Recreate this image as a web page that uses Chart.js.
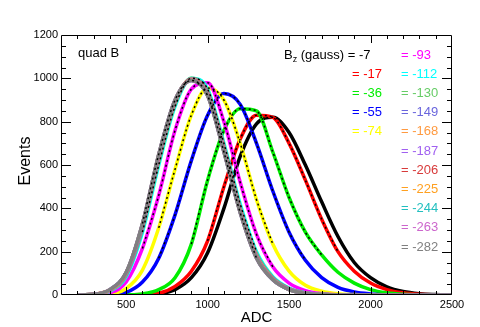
<!DOCTYPE html>
<html>
<head>
<meta charset="utf-8">
<script src="https://cdn.jsdelivr.net/npm/chart.js@4/dist/chart.umd.min.js"></script>
<style>
  body { margin: 0; background: #fff; }
  #wrap { width: 480px; height: 327px; }
</style>
</head>
<body>
<div id="wrap"><canvas id="adcChart" width="480" height="327"></canvas></div>
<script>
// ADC bin centres (x) shared by every histogram
const adc = [200, 300, 400, 500, 600, 700, 800, 900, 1000, 1100, 1200, 1300,
             1400, 1500, 1600, 1700, 1800, 1900, 2000, 2100, 2200, 2300, 2400, 2500];

const bzValues = ['-7', '-17', '-36', '-55', '-74', '-93', '-112', '-130',
                  '-149', '-168', '-187', '-206', '-225', '-244', '-263', '-282'];
const bzColors = ['#000000', '#ff0000', '#00ee00', '#0000ff', '#ffff00', '#ff00ff', '#00ffff', '#66cc66',
                  '#6a66dd', '#ff9a40', '#a060f0', '#d83a3a', '#ffa020', '#22bfbf', '#cc66cc', '#808080'];

// events, one array per Bz setting
const evM7   = [0, 0, 0, 0, 1, 5, 25, 80, 195, 400, 640, 790, 820, 750, 600, 430, 270, 150, 80, 38, 16, 6, 2, 0];
const evM17  = [0, 0, 0, 0, 2, 8, 40, 110, 250, 500, 720, 830, 820, 700, 530, 350, 200, 110, 55, 25, 10, 3, 1, 0];
const evM36  = [0, 0, 0, 1, 5, 25, 80, 235, 530, 760, 860, 850, 660, 450, 290, 185, 105, 55, 25, 10, 3, 1, 0, 0];
const evM55  = [0, 0, 2, 12, 60, 170, 370, 620, 830, 930, 880, 700, 480, 290, 160, 80, 35, 14, 5, 1, 0, 0, 0, 0];
const evM74  = [0, 0, 4, 30, 115, 310, 580, 830, 955, 900, 700, 440, 235, 110, 45, 18, 6, 2, 0, 0, 0, 0, 0, 0];
const evM93  = [0, 1, 10, 60, 215, 460, 760, 950, 980, 800, 520, 280, 130, 55, 20, 6, 1, 0, 0, 0, 0, 0, 0, 0];
const evM112 = [0, 2, 18, 85, 290, 600, 870, 1000, 950, 700, 420, 200, 85, 32, 10, 3, 0, 0, 0, 0, 0, 0, 0, 0];
const evM130 = [0, 3, 20, 92, 305, 615, 880, 1000, 940, 690, 405, 190, 80, 30, 9, 2, 0, 0, 0, 0, 0, 0, 0, 0];
const evM149 = [0, 3, 22, 96, 312, 628, 888, 998, 935, 682, 398, 184, 77, 28, 9, 2, 0, 0, 0, 0, 0, 0, 0, 0];
const evM168 = [0, 3, 22, 98, 318, 635, 892, 996, 930, 676, 392, 180, 75, 27, 8, 2, 0, 0, 0, 0, 0, 0, 0, 0];
const evM187 = [0, 3, 23, 100, 322, 640, 895, 994, 927, 670, 388, 177, 73, 26, 8, 2, 0, 0, 0, 0, 0, 0, 0, 0];
const evM206 = [0, 3, 24, 102, 325, 644, 897, 992, 924, 666, 385, 174, 72, 26, 8, 2, 0, 0, 0, 0, 0, 0, 0, 0];
const evM225 = [0, 3, 24, 103, 327, 647, 898, 991, 922, 663, 383, 172, 71, 25, 8, 2, 0, 0, 0, 0, 0, 0, 0, 0];
const evM244 = [0, 3, 25, 104, 328, 648, 899, 990, 921, 661, 381, 171, 70, 25, 8, 2, 0, 0, 0, 0, 0, 0, 0, 0];
const evM263 = [0, 3, 25, 104, 329, 649, 900, 990, 920, 660, 380, 170, 70, 25, 8, 2, 0, 0, 0, 0, 0, 0, 0, 0];
const evM282 = [0, 3, 25, 105, 330, 650, 900, 990, 920, 660, 380, 170, 70, 25, 8, 2, 0, 0, 0, 0, 0, 0, 0, 0];

const allEvents = [evM7, evM17, evM36, evM55, evM74, evM93, evM112, evM130,
                   evM149, evM168, evM187, evM206, evM225, evM244, evM263, evM282];
// which histograms carry a dotted fit curve
const fitted = [0, 1, 2, 3, 4, 5, 6, 15];

const xTicks = [500, 1000, 1500, 2000, 2500];
const yTicks = [0, 200, 400, 600, 800, 1000, 1200];

const FONT = '"Liberation Sans", Arial, Helvetica, sans-serif';

function toPoints(values) {
    return values.map((v, i) => ({ x: adc[i], y: v }));
}

function buildDatasets() {
    const sets = allEvents.map((values, i) => ({
        label: 'Bz = ' + bzValues[i],
        data: toPoints(values),
        borderColor: bzColors[i],
        borderWidth: 3.5,
        pointRadius: 0,
        cubicInterpolationMode: 'monotone',
        order: allEvents.length - i   // last one (-282) ends up on top
    }));
    fitted.forEach(i => {
        sets.push({
            label: 'fit ' + bzValues[i],
            data: allEvents[i].map((v, k) => ({ x: adc[k], y: v >= 120 ? v : null })),
            borderColor: '#000',
            borderWidth: 1.5,
            borderDash: [2, 3],
            pointRadius: 0,
            cubicInterpolationMode: 'monotone',
            spanGaps: false,
            order: -1
        });
    });
    return sets;
}

// ROOT-like frame: inward ticks on all four sides, plus the text
const rootFrame = {
    id: 'rootFrame',
    afterDatasetsDraw(chart) {
        const { ctx, chartArea: a, scales: { x, y } } = chart;
        ctx.save();
        ctx.strokeStyle = '#000';
        ctx.lineWidth = 1;
        ctx.beginPath();
        ctx.rect(a.left + 0.5, a.top + 0.5, a.right - a.left - 1, a.bottom - a.top - 1);
        for (let v = 200; v < 2500; v += 100) {
            const px = Math.round(x.getPixelForValue(v)) + 0.5;
            const len = v % 500 === 0 ? 8 : 4;
            ctx.moveTo(px, a.bottom); ctx.lineTo(px, a.bottom - len);
            ctx.moveTo(px, a.top); ctx.lineTo(px, a.top + len);
        }
        for (let v = 50; v < 1200; v += 50) {
            const py = Math.round(y.getPixelForValue(v)) + 0.5;
            const len = v % 200 === 0 ? 10 : 5;
            ctx.moveTo(a.left, py); ctx.lineTo(a.left + len, py);
            ctx.moveTo(a.right, py); ctx.lineTo(a.right - len, py);
        }
        ctx.stroke();
        ctx.restore();
    },
    afterDraw(chart) {
        const { ctx, chartArea: a } = chart;
        ctx.save();
        ctx.fillStyle = '#000';
        ctx.textBaseline = 'alphabetic';

        ctx.font = '13px ' + FONT;
        ctx.textAlign = 'left';
        ctx.fillText('quad B', 78, 57);

        // axis titles
        ctx.font = '15px ' + FONT;
        ctx.textAlign = 'center';
        ctx.fillText('ADC', (a.left + a.right) / 2, 322);
        ctx.save();
        ctx.translate(30, 161);
        ctx.rotate(-Math.PI / 2);
        ctx.font = '16px ' + FONT;
        ctx.fillText('Events', 0, 0);
        ctx.restore();

        // legend: B_z (gauss) = ...
        const rowH = 19.2;
        const top = 58.5;
        ctx.textAlign = 'left';
        ctx.font = '13px ' + FONT;
        ctx.fillText('B', 284, top);
        let bx = 284 + ctx.measureText('B').width;
        ctx.font = '9px ' + FONT;
        ctx.fillText('z', bx, top + 3);
        bx += ctx.measureText('z').width;
        ctx.font = '13px ' + FONT;
        ctx.fillText(' (gauss) = ' + bzValues[0], bx, top);

        for (let i = 1; i <= 4; i++) {
            ctx.fillStyle = bzColors[i];
            ctx.textAlign = 'right';
            ctx.fillText('= ' + bzValues[i], 382, top + rowH * i);
        }
        for (let i = 5; i < bzValues.length; i++) {
            ctx.fillStyle = bzColors[i];
            ctx.textAlign = 'left';
            ctx.fillText('= ' + bzValues[i], 401, top + rowH * (i - 5));
        }
        ctx.restore();
    }
};

new Chart(document.getElementById('adcChart'), {
    type: 'line',
    data: { datasets: buildDatasets() },
    options: {
        responsive: false,
        animation: false,
        events: [],
        layout: { padding: { top: 35, right: 28, left: 0, bottom: 0 } },
        plugins: {
            legend: { display: false },
            tooltip: { enabled: false }
        },
        scales: {
            x: {
                type: 'linear',
                min: 100,
                max: 2500,
                afterBuildTicks: scale => { scale.ticks = xTicks.map(v => ({ value: v })); },
                afterFit: scale => { scale.height = 32; },
                grid: { display: false, drawTicks: false },
                border: { display: false },
                ticks: { color: '#000', font: { family: FONT, size: 11 }, padding: 3, maxRotation: 0,
                         autoSkip: false, callback: v => String(v) }
            },
            y: {
                type: 'linear',
                min: 0,
                max: 1200,
                afterBuildTicks: scale => { scale.ticks = yTicks.map(v => ({ value: v })); },
                afterFit: scale => { scale.width = 61; },
                grid: { display: false, drawTicks: false },
                border: { display: false },
                ticks: { color: '#000', font: { family: FONT, size: 11 }, padding: 3, callback: v => String(v) }
            }
        }
    },
    plugins: [rootFrame]
});
</script>
</body>
</html>
